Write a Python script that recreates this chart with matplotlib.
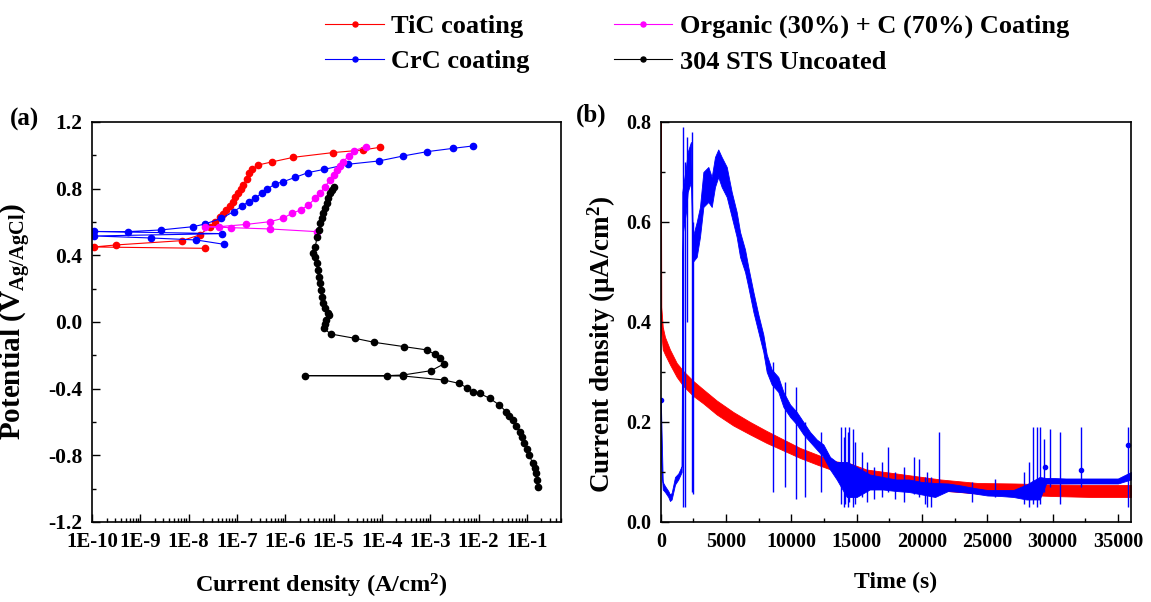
import numpy as np
import matplotlib.pyplot as plt
from matplotlib.ticker import MultipleLocator, LogLocator, FuncFormatter, NullFormatter

plt.rcParams['font.family'] = ['Liberation Serif', 'DejaVu Serif']
plt.rcParams['font.weight'] = 'bold'
plt.rcParams['mathtext.fontset'] = 'custom'
plt.rcParams['mathtext.rm'] = 'Liberation Serif:bold'
plt.rcParams['mathtext.bf'] = 'Liberation Serif:bold'
plt.rcParams['mathtext.it'] = 'Liberation Serif:bold:italic'
plt.rcParams['mathtext.default'] = 'bf'
plt.rcParams['axes.unicode_minus'] = False

# ---- (a) polarization curves: log10(current density A/cm2), potential V
tic_logi = np.array([-7.66, -9.96, -9.51, -8.14, -7.77, -7.56, -7.45, -7.35, -7.28, -7.22, -7.15,
                     -7.08, -7.03, -6.98, -6.92, -6.87, -6.80, -6.74, -6.69, -6.56, -6.28, -5.83,
                     -5.02, -4.39, -4.04])
tic_v = np.array([0.442, 0.45, 0.462, 0.488, 0.522, 0.572, 0.60, 0.628, 0.650, 0.672, 0.698,
                  0.722, 0.748, 0.772, 0.797, 0.822, 0.858, 0.892, 0.916, 0.942, 0.96, 0.988,
                  1.016, 1.032, 1.048])

crc_logi = np.array([-7.27, -7.84, -8.78, -9.96, -7.30, -9.96, -9.26, -8.58, -7.90, -7.66, -7.32,
                     -7.07, -6.89, -6.76, -6.62, -6.48, -6.38, -6.21, -6.04, -5.79, -5.53,
                     -5.19, -4.71, -4.06, -3.56, -3.06, -2.52, -2.12])
crc_v = np.array([0.466, 0.492, 0.504, 0.516, 0.530, 0.543, 0.542, 0.552, 0.572, 0.588, 0.622,
                  0.662, 0.696, 0.722, 0.742, 0.776, 0.796, 0.828, 0.842, 0.868, 0.896,
                  0.916, 0.946, 0.966, 0.996, 1.022, 1.042, 1.056])

org_logi = np.array([-5.35, -6.31, -7.13, -7.67, -7.37, -6.82, -6.31, -6.05, -5.86, -5.68, -5.52,
                     -5.38, -5.28, -5.18, -5.07, -5.00, -4.93, -4.86, -4.80, -4.69, -4.58, -4.32])
org_v = np.array([0.542, 0.558, 0.566, 0.572, 0.572, 0.585, 0.602, 0.622, 0.652, 0.672, 0.702,
                  0.742, 0.772, 0.812, 0.852, 0.882, 0.912, 0.938, 0.962, 0.996, 1.028, 1.052])

sts_logi = np.array([-0.78, -0.79, -0.81, -0.84, -0.88, -0.95, -1.00, -1.05, -1.10, -1.15, -1.22,
                     -1.29, -1.36, -1.43, -1.57, -1.77, -1.98, -2.12, -2.24, -2.41, -2.72, -3.56,
                     -5.59, -3.90, -3.56, -2.98, -2.72, -2.80, -2.91, -3.06, -3.54, -4.16, -4.56,
                     -5.06, -5.20, -5.17, -5.15, -5.10, -5.11, -5.17, -5.21, -5.24, -5.27, -5.29,
                     -5.31, -5.33, -5.35, -5.38, -5.42, -5.38, -5.34, -5.31, -5.28, -5.25, -5.21,
                     -5.18, -5.14, -5.11, -5.07, -5.03, -4.99])
sts_v = np.array([-0.988, -0.95, -0.908, -0.875, -0.848, -0.798, -0.762, -0.728, -0.690, -0.658, -0.622,
                  -0.588, -0.562, -0.538, -0.498, -0.458, -0.428, -0.418, -0.394, -0.368, -0.348, -0.324,
                  -0.322, -0.322, -0.318, -0.292, -0.252, -0.218, -0.194, -0.168, -0.148, -0.122, -0.098,
                  -0.072, -0.038, -0.012, 0.012, 0.040, 0.056, 0.085, 0.112, 0.150, 0.192, 0.232,
                  0.272, 0.312, 0.352, 0.392, 0.414, 0.450, 0.512, 0.552, 0.592, 0.622, 0.652,
                  0.682, 0.712, 0.742, 0.772, 0.792, 0.808])

# ---- (b) potentiostatic current density (uA/cm2) vs time (s), read as band envelopes
tic_t = np.array([0, 40, 150, 320, 700, 1220, 1720, 2490, 3260, 4280, 5550, 6840, 8110, 9390,
                  10670, 11950, 13220, 14500, 15750, 18600, 21430, 24270, 27110, 29950, 33000, 36000])
tic_lo = np.array([0.40, 0.38, 0.345, 0.335, 0.315, 0.29, 0.272, 0.252, 0.237, 0.215, 0.193, 0.175,
                   0.158, 0.143, 0.128, 0.115, 0.103, 0.097, 0.083, 0.073, 0.063, 0.057, 0.055,
                   0.052, 0.050, 0.050])
tic_hi = np.array([0.80, 0.43, 0.39, 0.37, 0.345, 0.318, 0.302, 0.282, 0.265, 0.243, 0.22, 0.20,
                   0.182, 0.165, 0.148, 0.135, 0.122, 0.117, 0.105, 0.095, 0.085, 0.078, 0.077,
                   0.075, 0.074, 0.074])

crc_t = np.array([0, 150, 320, 575, 700, 830, 1090, 1340, 1600, 1650, 1700, 1930, 2060, 2310, 2450,
                  2750, 3000, 3260, 3640, 3900, 4150, 4400, 4660, 5050, 5430, 5810, 6070, 6450,
                  6700, 7090, 7470, 7850, 8110, 8490, 9000, 9390, 9900, 10410, 10920, 11430,
                  11940, 12450, 12960, 13470, 14240, 15000, 16000, 17000, 18000, 19000, 20000,
                  21000, 22000, 23000, 24000, 25000, 26000, 27000, 28000, 29000, 29500, 30000,
                  31000, 32000, 33000, 34000, 35000, 36000])
crc_lo = np.array([0.13, 0.065, 0.06, 0.05, 0.042, 0.045, 0.075, 0.085, 0.10, 0.50, 0.58, 0.62,
                   0.66, 0.68, 0.52, 0.53, 0.57, 0.63, 0.64, 0.63, 0.67, 0.69, 0.67, 0.65, 0.61,
                   0.57, 0.53, 0.50, 0.47, 0.42, 0.38, 0.34, 0.30, 0.275, 0.26, 0.23, 0.21,
                   0.195, 0.175, 0.16, 0.145, 0.13, 0.105, 0.085, 0.05, 0.05, 0.065, 0.065,
                   0.062, 0.06, 0.055, 0.05, 0.062, 0.06, 0.057, 0.053, 0.052, 0.05, 0.045,
                   0.045, 0.077, 0.077, 0.077, 0.077, 0.077, 0.077, 0.077, 0.085])
crc_hi = np.array([0.245, 0.08, 0.072, 0.062, 0.055, 0.058, 0.09, 0.097, 0.112, 0.66, 0.67, 0.71,
                   0.74, 0.76, 0.57, 0.60, 0.63, 0.70, 0.71, 0.69, 0.73, 0.745, 0.73, 0.71, 0.66,
                   0.62, 0.58, 0.545, 0.51, 0.46, 0.415, 0.375, 0.335, 0.305, 0.29, 0.26, 0.235,
                   0.22, 0.20, 0.18, 0.165, 0.155, 0.13, 0.12, 0.12, 0.11, 0.095, 0.09,
                   0.085, 0.085, 0.08, 0.078, 0.077, 0.073, 0.068, 0.064, 0.064, 0.064, 0.075,
                   0.09, 0.088, 0.088, 0.087, 0.087, 0.087, 0.087, 0.087, 0.10])

# single excursions (time, low, high)
spike_t = [1700, 1850, 1990, 2410, 2500, 8600, 9500, 10330, 11050, 12250, 13800, 14000, 14100,
           14300, 14400, 14750, 14900, 15390, 15800, 16300, 16900, 17380, 17900, 18600, 19400,
           19780, 20200, 20400, 20700, 21320, 23800, 25600, 27800, 28200, 28490, 28800, 29000,
           29360, 29770, 30590, 32200, 35770]
spike_lo = [0.03, 0.03, 0.40, 0.06, 0.055, 0.06, 0.07, 0.045, 0.05, 0.06, 0.035, 0.03, 0.035,
            0.03, 0.04, 0.03, 0.035, 0.05, 0.04, 0.045, 0.05, 0.06, 0.045, 0.04, 0.055,
            0.05, 0.035, 0.03, 0.03, 0.06, 0.04, 0.05, 0.035, 0.03, 0.035, 0.03, 0.035,
            0.06, 0.07, 0.035, 0.07, 0.03]
spike_hi = [0.79, 0.72, 0.77, 0.78, 0.60, 0.32, 0.28, 0.27, 0.20, 0.18, 0.19, 0.17, 0.19,
            0.18, 0.19, 0.185, 0.16, 0.14, 0.12, 0.11, 0.12, 0.15, 0.10, 0.11, 0.13,
            0.125, 0.09, 0.10, 0.09, 0.18, 0.08, 0.085, 0.10, 0.12, 0.19, 0.19, 0.19,
            0.165, 0.185, 0.18, 0.19, 0.19]
dot_t = [0, 29440, 32200, 35770]
dot_v = [0.243, 0.109, 0.104, 0.153]

fig = plt.figure(figsize=(11.51, 6.02), dpi=100)
axa = fig.add_axes([0.0799, 0.1329, 0.4072, 0.6645])
axb = fig.add_axes([0.5741, 0.1329, 0.4085, 0.6645])

mk = dict(marker='o', ms=4.5, lw=0.8)
la, = axa.plot(10**tic_logi, tic_v, color='#ff0000', **mk)
lb, = axa.plot(10**crc_logi, crc_v, color='#0000ff', **mk)
lc, = axa.plot(10**org_logi, org_v, color='#ff00ff', **mk)
ld, = axa.plot(10**sts_logi, sts_v, color='black', **mk)

axa.set_xscale('log')
axa.set_xlim(1e-10, 0.5)
axa.set_ylim(-1.2, 1.2)
axa.xaxis.set_major_locator(LogLocator(base=10, numticks=20))
axa.xaxis.set_minor_locator(LogLocator(base=10, subs=np.arange(2, 10), numticks=20))
axa.xaxis.set_minor_formatter(NullFormatter())
axa.xaxis.set_major_formatter(FuncFormatter(lambda v, p: '1E%d' % round(np.log10(v))))
axa.yaxis.set_major_locator(MultipleLocator(0.4))
axa.yaxis.set_minor_locator(MultipleLocator(0.2))
axa.yaxis.set_major_formatter(FuncFormatter(lambda v, p: '%.1f' % v))
axa.tick_params(axis='x', labelsize=15)
axa.tick_params(axis='y', labelsize=15.5)
axa.set_xlabel('Current density (A/cm$^2$)', fontsize=17.5, fontweight='bold')
axa.set_ylabel('Potential (V$_{Ag/AgCl}$)', fontsize=21, fontweight='bold')
axa.xaxis.set_label_coords(0.49, -0.125)
axa.yaxis.set_label_coords(-0.125, 0.5)

axb.fill_between(tic_t, tic_lo, tic_hi, color='#ff0000', lw=0.6)
axb.fill_between(crc_t, crc_lo, crc_hi, color='#0000ff', lw=0.6)
axb.vlines(spike_t, spike_lo, spike_hi, color='#0000ff', lw=1.0)
axb.plot(dot_t, dot_v, 'o', color='#0000ff', ms=3)
axb.set_xlim(0, 36000)
axb.set_ylim(0, 0.8)
axb.xaxis.set_major_locator(MultipleLocator(5000))
axb.xaxis.set_minor_locator(MultipleLocator(2500))
axb.yaxis.set_major_locator(MultipleLocator(0.2))
axb.yaxis.set_minor_locator(MultipleLocator(0.1))
axb.yaxis.set_major_formatter(FuncFormatter(lambda v, p: '%.1f' % v))
axb.tick_params(labelsize=14.5)
axb.set_xlabel('Time (s)', fontsize=17, fontweight='bold')
axb.set_ylabel('Current density (\u03bcA/cm$^2$)', fontsize=19.5, fontweight='bold')
axb.xaxis.set_label_coords(0.5, -0.125)
axb.yaxis.set_label_coords(-0.09, 0.445)

for ax in (axa, axb):
    for s in ax.spines.values():
        s.set_linewidth(1.2)
    ax.tick_params(which='both', direction='in', width=1.0)
    ax.tick_params(which='major', length=6, pad=7)
    ax.tick_params(which='minor', length=3)

fig.text(10 / 1151, 1 - 119 / 602, '(a)', fontsize=18, fontweight='bold', va='center')
fig.text(576 / 1151, 1 - 115 / 602, '(b)', fontsize=18, fontweight='bold', va='center')

fig.legend([la, lb, lc, ld],
           ['TiC coating', 'CrC coating', 'Organic (30%) + C (70%) Coating', '304 STS Uncoated'],
           loc='center', bbox_to_anchor=(0.6060, 0.9269), ncol=2, frameon=False,
           fontsize=19, handlelength=2.2, handletextpad=0.3, columnspacing=3.2,
           labelspacing=0.45, numpoints=1, markerscale=0.8, borderpad=0)

fig.savefig('out.png', dpi=100)
